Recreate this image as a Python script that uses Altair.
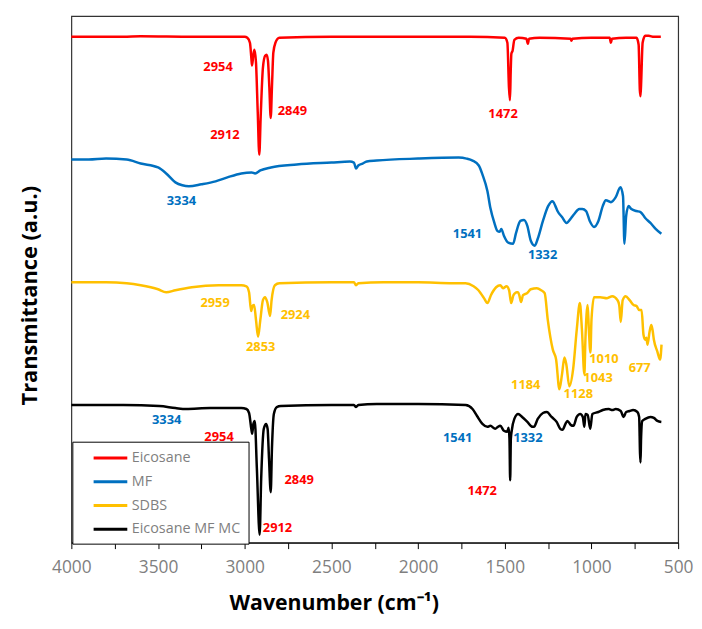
import altair as alt
import pandas as pd

series_names = ["Eicosane", "MF", "SDBS", "Eicosane MF MC"]
series_colors = ["#FF0000", "#0070C0", "#FFC000", "#000000"]

# Eicosane (offset transmittance, a.u.)
eic_wn = [4000, 3700, 3600, 3300, 3000, 2985, 2970, 2962, 2958, 2950,
          2944, 2935, 2925, 2916, 2908, 2895, 2882, 2874, 2866, 2858,
          2850, 2843, 2835, 2823, 2800, 2500, 2000, 1700, 1500, 1485,
          1476, 1470, 1466, 1462, 1455, 1445, 1420, 1375, 1367, 1360,
          1300, 1120, 1116, 1110, 1000, 895, 888, 882, 800, 740,
          728, 721, 717, 713, 705, 690, 670, 640, 620, 600]
eic_t = [511, 511, 511.5, 511, 511, 510, 505, 490, 482, 493,
         498, 485, 435, 392, 430, 480, 492, 493, 487, 460,
         429, 460, 495, 505, 510, 511, 511, 511, 510, 505,
         460, 447, 475, 494, 497, 508, 510, 509, 504, 509,
         510, 509, 507, 509, 510, 510, 505, 509, 510, 510,
         503, 457, 451, 467, 505, 512, 512, 511, 511, 511]

# MF
mf_wn = [4000, 3900, 3800, 3681, 3600, 3500, 3453, 3400, 3360, 3322,
         3250, 3168, 3100, 3020, 2960, 2940, 2910, 2849, 2700, 2500,
         2393, 2370, 2358, 2345, 2320, 2296, 2239, 2000, 1766, 1720,
         1686, 1650, 1629, 1600, 1583, 1560, 1543, 1530, 1520, 1505,
         1480, 1452, 1435, 1410, 1389, 1370, 1350, 1327, 1310, 1280,
         1250, 1225, 1208, 1196, 1170, 1144, 1117, 1099, 1070, 1053,
         1031, 1010, 985, 960, 935, 917, 888, 860, 833, 818,
         810, 800, 786, 770, 740, 717, 690, 660, 630, 597]
mf_t = [387, 387, 388, 387, 383, 379, 373, 364, 361, 360,
        362, 365, 369, 373, 374, 373, 376, 379, 382, 384,
        385, 384, 378, 381, 383, 385, 386, 388, 389, 388,
        386, 381, 372, 355, 338, 323, 315, 314, 317, 310,
        303, 302, 313, 325, 326, 320, 305, 300, 307, 325,
        340, 345, 340, 335, 329, 323, 328, 332, 337, 337,
        335, 325, 319, 325, 340, 346, 344, 349, 359, 350,
        302, 330, 340, 337, 335, 334, 328, 323, 317, 312]

# SDBS
sdbs_wn = [4000, 3800, 3681, 3600, 3500, 3453, 3400, 3305, 3150, 3020,
           2990, 2975, 2963, 2955, 2946, 2935, 2923, 2910, 2895, 2883,
           2870, 2854, 2845, 2826, 2800, 2500, 2370, 2358, 2345, 2200,
           2000, 1800, 1726, 1680, 1652, 1620, 1600, 1580, 1550, 1526,
           1510, 1490, 1475, 1463, 1450, 1430, 1423, 1415, 1406, 1395,
           1372, 1350, 1315, 1290, 1270, 1252, 1223, 1204, 1185, 1170,
           1156, 1145, 1128, 1106, 1085, 1067, 1055, 1041, 1035, 1022,
           1015, 1006, 1000, 985, 950, 910, 880, 850, 840, 831,
           820, 803, 780, 757, 740, 725, 711, 700, 690, 683,
           677, 665, 655, 648, 640, 620, 604, 596]
sdbs_t = [263, 263, 262, 260, 256, 253, 255, 258, 260, 260,
          259, 253, 234, 239, 240, 225, 208, 225, 245, 248,
          243, 229, 245, 260, 262, 263, 263, 260, 262, 263,
          263, 262, 262, 259, 255, 247, 242, 250, 258, 260,
          257, 259, 255, 242, 250, 253, 253, 249, 243, 250,
          252, 256, 257, 255, 252, 225, 195, 185, 155, 170,
          187, 180, 158, 175, 215, 242, 215, 170, 205, 240,
          215, 192, 225, 248, 248, 247, 249, 245, 240, 223,
          245, 249, 245, 240, 239, 235, 235, 210, 205, 207,
          200, 213, 220, 215, 205, 193, 185, 200]

# Eicosane MF MC
mc_wn = [4000, 3700, 3493, 3400, 3339, 3200, 3020, 2990, 2975, 2962,
         2957, 2950, 2942, 2930, 2914, 2905, 2890, 2877, 2868, 2860,
         2850, 2843, 2832, 2815, 2792, 2500, 2370, 2358, 2345, 2239,
         2000, 1726, 1686, 1660, 1629, 1600, 1583, 1555, 1540, 1526,
         1505, 1486, 1478, 1473, 1469, 1465, 1460, 1445, 1423, 1400,
         1370, 1340, 1332, 1310, 1280, 1258, 1230, 1201, 1180, 1167,
         1150, 1139, 1120, 1104, 1085, 1065, 1050, 1041, 1035, 1022,
         1007, 995, 960, 935, 900, 880, 860, 831, 815, 800,
         780, 760, 735, 725, 720, 717, 714, 707, 690, 660,
         640, 620, 597]
mc_t = [139, 139, 138, 136, 135, 136, 136, 135, 131, 115,
        110, 120, 123, 75, 8, 65, 115, 120, 115, 85,
        51, 95, 130, 137, 138, 139, 139, 137, 139, 140,
        140, 139, 135, 128, 120, 117, 118, 115, 117, 118,
        113, 112, 116, 105, 63, 105, 113, 125, 130, 127,
        122, 117, 117, 125, 131, 132, 127, 122, 115, 114,
        120, 123, 119, 118, 127, 130, 127, 117, 130, 129,
        115, 130, 132, 134, 135, 134, 135, 133, 127, 132,
        133, 134, 132, 127, 90, 81, 105, 123, 125, 127,
        126, 123, 122]

# Peak annotations
ann_text = ["2954", "2849", "2912", "1472",
            "3334", "1541", "1332",
            "2959", "2924", "2853", "1184", "1128", "1043", "1010", "677",
            "3334", "2954", "2849", "2912", "1541", "1332", "1472"]
ann_wn = [3154, 2725, 3114, 1510,
          3365, 1715, 1282,
          3171, 2708, 2908, 1379, 1076, 962, 928, 722,
          3450, 3148, 2686, 2811, 1772, 1367, 1630]
ann_t = [480, 436, 412, 433,
         345, 312, 291,
         242, 230, 198, 159, 150, 166, 186, 176,
         124, 107, 63, 15, 106, 106, 52]
ann_color = ["#FF0000"] * 4 + ["#0070C0"] * 3 + ["#FFC000"] * 8 + \
            ["#0070C0", "#FF0000", "#FF0000", "#FF0000", "#0070C0", "#0070C0", "#FF0000"]

rows = []
for name, wns, ts in [(series_names[0], eic_wn, eic_t), (series_names[1], mf_wn, mf_t),
                      (series_names[2], sdbs_wn, sdbs_t), (series_names[3], mc_wn, mc_t)]:
    assert len(wns) == len(ts), name
    for i, (w, t) in enumerate(zip(wns, ts)):
        rows.append({"series": name, "wn": w, "T": t, "idx": i})
df = pd.DataFrame(rows)

ann = pd.DataFrame({"text": ann_text, "wn": ann_wn, "T": ann_t, "c": ann_color})

x_scale = alt.Scale(domain=[500, 4000], reverse=True, nice=False, zero=False)
y_scale = alt.Scale(domain=[0, 532], nice=False, zero=False)

x_axis = alt.Axis(
    title="Wavenumber (cm⁻¹)",
    values=list(range(500, 4001, 250)),
    labelExpr="datum.value % 500 == 0 ? format(datum.value, 'd') : ''",
    labelOverlap=False, labelFlush=False, labelFontSize=17.5, labelColor="#7f7f7f",
    labelFont="Open Sans", labelPadding=10,
    tickSize=6, tickColor="black", domainColor="black", grid=False,
    titleFontSize=21.5, titleFont="Open Sans", titleFontWeight="bold", titleColor="black",
    titleX=265, titleY=68, titleAlign="center", titleBaseline="alphabetic",
)
y_axis = alt.Axis(
    title="Transmittance (a.u.)", labels=False, ticks=False, domain=False, grid=False,
    titleFontSize=22, titleFont="Open Sans", titleFontWeight="bold", titleColor="black",
    titleX=-42, titleY=282, titleAlign="center", titleBaseline="middle", titleAngle=-90,
)

legend = alt.Legend(
    title=None, orient="none", legendX=1, legendY=430, direction="vertical",
    strokeColor="black", fillColor="white", padding=8,
    symbolType="M-2.43,0H2.43", symbolSize=196, symbolStrokeWidth=3,
    symbolOffset=22, labelOffset=13, rowPadding=9,
    labelFontSize=14.5, labelColor="#7f7f7f", labelFont="Open Sans",
)

lines = alt.Chart(df).mark_line(strokeWidth=2.5, interpolate="monotone").encode(
    x=alt.X("wn:Q", scale=x_scale, axis=x_axis),
    y=alt.Y("T:Q", scale=y_scale, axis=y_axis),
    color=alt.Color("series:N", scale=alt.Scale(domain=series_names, range=series_colors),
                    legend=legend),
    order=alt.Order("idx:Q"),
)

labels = alt.Chart(ann).mark_text(font="Open Sans", fontWeight="bold", fontSize=13).encode(
    x=alt.X("wn:Q", scale=x_scale),
    y=alt.Y("T:Q", scale=y_scale),
    text="text:N",
    color=alt.Color("c:N", scale=None),
)

chart = (lines + labels).properties(
    width=613, height=532,
    autosize=alt.AutoSizeParams(type="none"),
    padding={"left": 64, "top": 5, "right": 16, "bottom": 75},
).configure_view(stroke="#333333", strokeWidth=1.2)

chart.save("out.html", embed_options={"renderer": "svg", "actions": False})
